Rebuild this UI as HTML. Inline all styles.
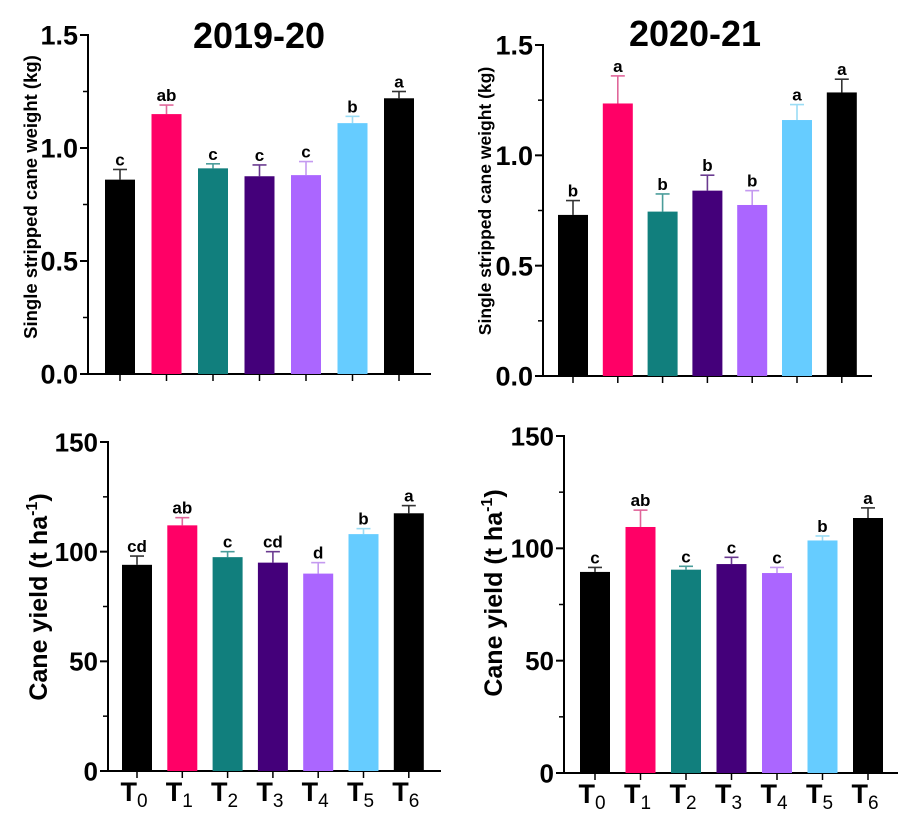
<!DOCTYPE html>
<html><head><meta charset="utf-8"><style>
html,body{margin:0;padding:0;background:#fff;}
svg{display:block;font-family:"Liberation Sans",Arial,sans-serif;}
</style></head><body>
<svg id="fig" width="918" height="829" viewBox="0 0 918 829" xmlns="http://www.w3.org/2000/svg"></svg>
<script>
const categories = ["T0","T1","T2","T3","T4","T5","T6"];
const colors = ["#000000","#FF0066","#117F7D","#44007A","#AB66FF","#66CCFF","#000000"];
const errColors = ["#333333","#E0669A","#4A9C9A","#6A3A90","#C49AF0","#9ADCF5","#333333"];
const w1Values = [0.86,1.15,0.91,0.875,0.88,1.11,1.22];
const w1Errors = [0.045,0.04,0.02,0.05,0.06,0.03,0.03];
const w1Letters = ["c","ab","c","c","c","b","a"];
const w2Values = [0.73,1.235,0.745,0.84,0.775,1.16,1.285];
const w2Errors = [0.065,0.125,0.08,0.07,0.065,0.07,0.06];
const w2Letters = ["b","a","b","b","b","a","a"];
const y1Values = [94,112,97.5,95,90,108,117.5];
const y1Errors = [4,3.5,2.5,5,5,2.5,3.5];
const y1Letters = ["cd","ab","c","cd","d","b","a"];
const y2Values = [89.5,109.5,90.5,93,89,103.5,113.5];
const y2Errors = [2,7.5,1.5,3,2.5,2,4.5];
const y2Letters = ["c","ab","c","c","c","b","a"];
const weightTicks = ["0.0","0.5","1.0","1.5"];
const yieldTicks = ["0","50","100","150"];

const NS="http://www.w3.org/2000/svg";
const svg=document.getElementById('fig');
function mk(tag,attrs,parent){const e=document.createElementNS(NS,tag);for(const k in attrs)e.setAttribute(k,attrs[k]);(parent||svg).appendChild(e);return e;}

function panel(p){
  const g=mk('g',{});
  
  
  const yS=v=>p.y0+(p.yTop-p.y0)*(v/p.max);
  const xS=i=>p.c0+i*p.step;
  const ya=mk('line',{x1:p.ax,x2:p.ax,y1:p.yTop-1,y2:p.y0,stroke:'#000','stroke-width':2},g);
  
  
  const xa=mk('line',{x1:p.ax-7,x2:p.axEnd,y1:p.y0,y2:p.y0,stroke:'#000','stroke-width':2},g);
  
  
  const nT=p.ticks.length;
  for(let k=0;k<nT;k++){
    const v=p.max*k/(nT-1), y=yS(v);
    mk('line',{x1:p.ax-8,x2:p.ax,y1:y,y2:y,stroke:'#000','stroke-width':2},g);
    const t=mk('text',{x:p.ax-10,y:y+p.tickFs*0.36,'text-anchor':'end','font-size':p.tickFs,'font-weight':'bold'},g);
    t.textContent=p.ticks[k];
    
    
    if(k<nT-1){const ym=yS(v+p.max/(nT-1)/2);mk('line',{x1:p.ax-5,x2:p.ax,y1:ym,y2:ym,stroke:'#000','stroke-width':1.5},g);}
  }
  for(let i=0;i<p.values.length;i++){
    const cx=xS(i), v=p.values[i], top=yS(v), et=yS(v+p.errors[i]);
    const eb=mk('line',{x1:cx,x2:cx,y1:top,y2:et,stroke:errColors[i],'stroke-width':1.6},g);
    
    
    mk('line',{x1:cx-7,x2:cx+7,y1:et,y2:et,stroke:errColors[i],'stroke-width':1.6},g);
    const r=mk('rect',{x:cx-15,y:top,width:30,height:p.y0-top,fill:colors[i]},g);
    
    
    mk('line',{x1:cx,x2:cx,y1:p.y0,y2:p.y0+7,stroke:'#000','stroke-width':1.5},g);
    const l=mk('text',{x:cx,y:et-4,'text-anchor':'middle','font-size':17,'font-weight':'bold'},g);
    l.textContent=p.letters[i];
    
    
    if(p.xlabels){
      const xt=mk('text',{x:cx-3,y:p.y0+30,'text-anchor':'middle','font-size':27,'font-weight':'bold'},g);
      
      
      xt.appendChild(document.createTextNode('T'));
      const s=mk('tspan',{'font-size':19,'font-weight':'normal',dy:6},xt);
      s.textContent=categories[i].slice(1);
    }
  }
  const yt=mk('text',{x:0,y:0,'text-anchor':'middle','font-size':p.titleFs,'font-weight':'bold',transform:`translate(${p.tx},${p.ty}) rotate(-90)`},g);
  
  
  if(p.sup){yt.appendChild(document.createTextNode('Cane yield (t ha'));const s=mk('tspan',{'font-size':16,dy:-10},yt);s.textContent='-1';const s2=mk('tspan',{dy:10},yt);s2.textContent=')';}
  else yt.textContent=p.ytitle;
  if(p.title){const tt=mk('text',{x:p.titleX,y:p.titleY,'text-anchor':'middle','font-size':36,'font-weight':'bold'},g);tt.textContent=p.title;}
}

panel({name:'panel-weight-2019-20',ax:88,axEnd:431,yTop:35,y0:374,max:1.5,c0:120,step:46.5,values:w1Values,errors:w1Errors,letters:w1Letters,ticks:weightTicks,tickFs:27,titleFs:18.5,tx:37,ty:197,ytitle:'Single stripped cane weight (kg)',title:'2019-20',titleX:259,titleY:48});
panel({name:'panel-weight-2020-21',ax:543,axEnd:872,yTop:45,y0:376,max:1.5,c0:573,step:44.8,values:w2Values,errors:w2Errors,letters:w2Letters,ticks:weightTicks,tickFs:27,titleFs:17.5,tx:491,ty:201,ytitle:'Single stripped cane weight (kg)',title:'2020-21',titleX:695,titleY:46});
panel({name:'panel-yield-2019-20',ax:108,axEnd:441,yTop:442,y0:771,max:150,c0:137,step:45.3,values:y1Values,errors:y1Errors,letters:y1Letters,ticks:yieldTicks,tickFs:26,titleFs:25,tx:47,ty:597,sup:true,xlabels:true});
panel({name:'panel-yield-2020-21',ax:564,axEnd:898,yTop:436,y0:773,max:150,c0:595,step:45.5,values:y2Values,errors:y2Errors,letters:y2Letters,ticks:yieldTicks,tickFs:26,titleFs:25,tx:502,ty:593,sup:true,xlabels:true});
</script>
</body></html>
